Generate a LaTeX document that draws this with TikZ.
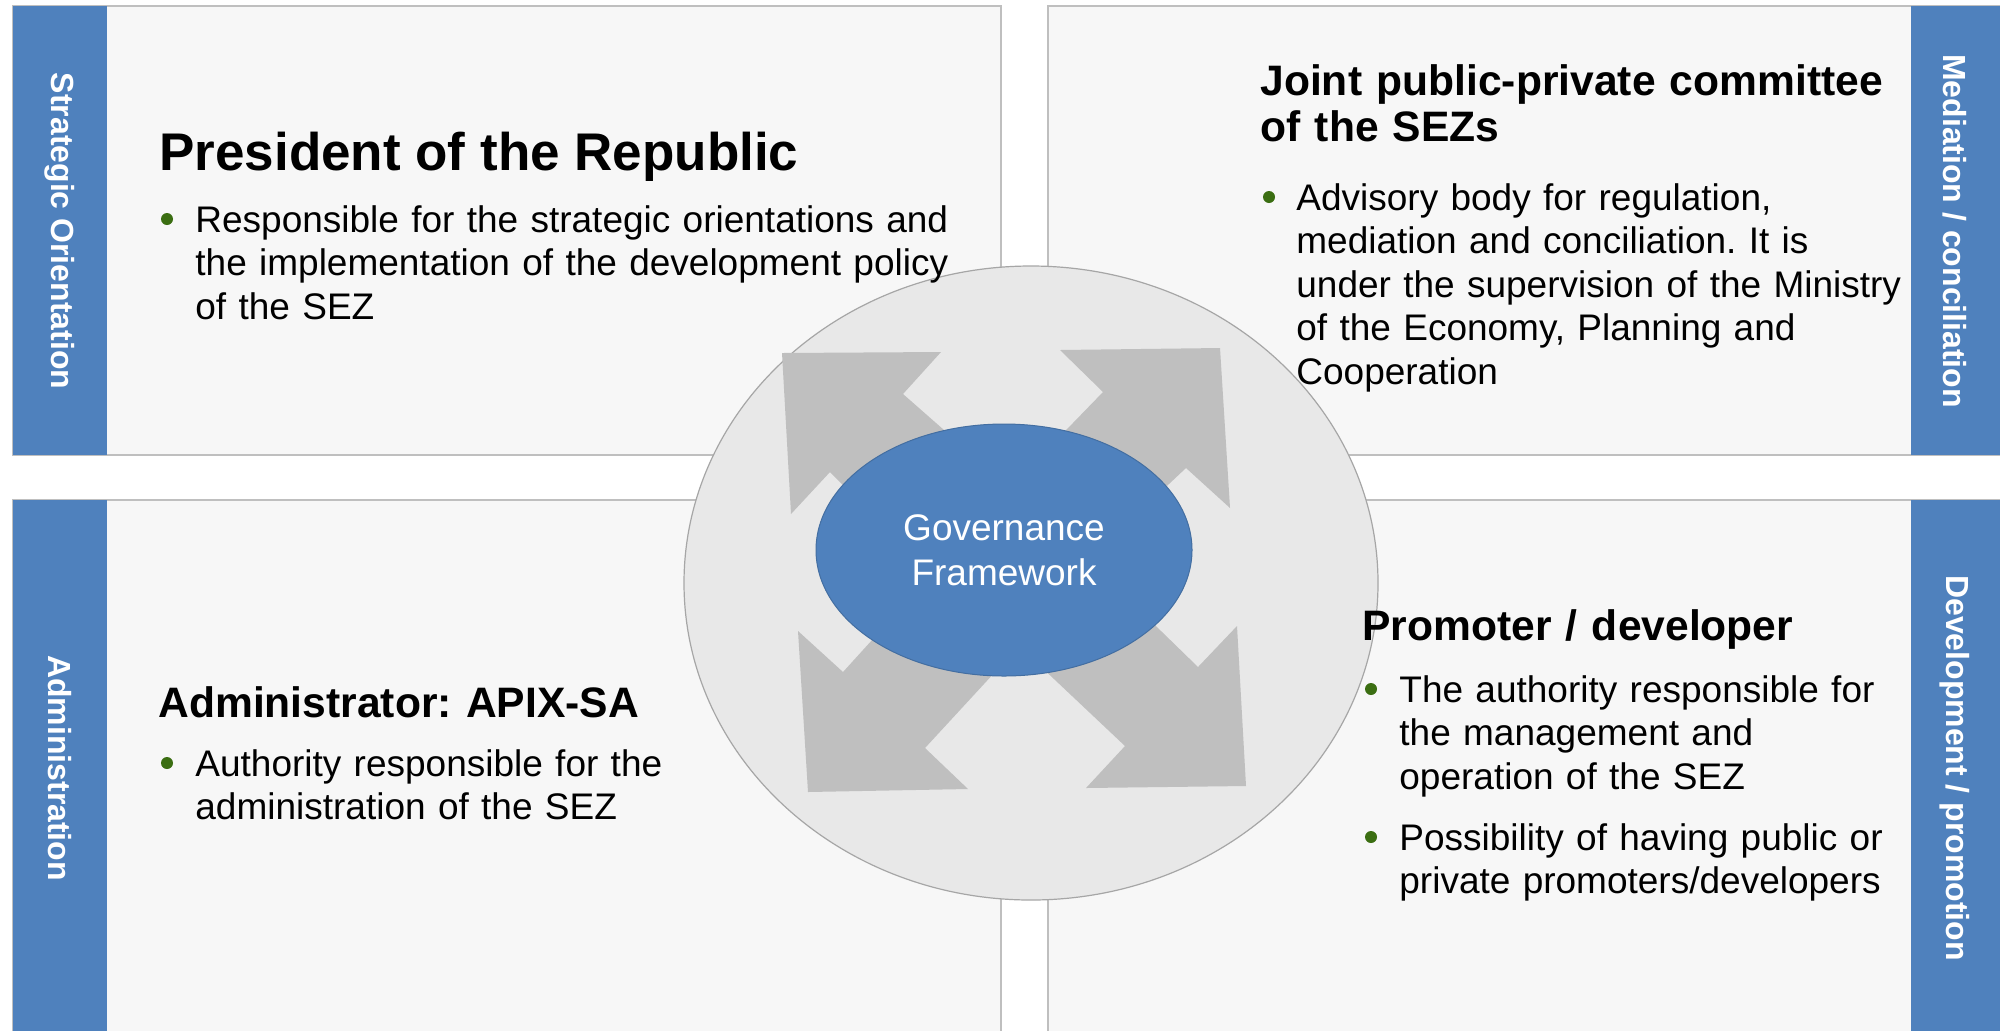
\documentclass[tikz,border=0pt]{standalone}
\usepackage{fontspec}
\setmainfont{Liberation Sans}
\frenchspacing
\usetikzlibrary{shapes.geometric}
\definecolor{govblue}{HTML}{4F81BD}
\definecolor{panelfill}{HTML}{F7F7F7}
\definecolor{panelline}{HTML}{BFBFBF}
\definecolor{ringfill}{HTML}{E8E8E8}
\definecolor{ringline}{HTML}{A6A6A6}
\definecolor{arrowgray}{HTML}{BFBFBF}
\definecolor{bulgreen}{HTML}{3B6E12}
\tikzset{
  panel/.style={fill=panelfill, draw=panelline, line width=0.8pt},
  strip/.style={fill=govblue},
  striplabel/.style={rotate=-90, text=white, inner sep=0pt, font=\fontsize{16pt}{19pt}\selectfont\bfseries},
  bigtitle/.style={anchor=base west, inner sep=0pt, font=\fontsize{26.5pt}{30pt}\selectfont\bfseries},
  headline/.style={anchor=base west, inner sep=0pt, align=left, text width=330pt, font=\fontsize{21.3pt}{23pt}\selectfont\bfseries},
  bodytext/.style={anchor=base west, inner sep=0pt, align=left, font=\fontsize{18.5pt}{21.8pt}\selectfont},
  bulletdot/.style={circle, fill=bulgreen, inner sep=0pt, minimum size=6pt},
}
\begin{document}
\begin{tikzpicture}[x=0.5pt, y=-0.5pt]
    \useasboundingbox (0,0) rectangle (2000,1030);
    \fill[white] (0,0) rectangle (2000,1030);

    \draw[panel] (13,6) rectangle (1001,455);
    \draw[panel] (1048,6) rectangle (2001,455);
    \draw[panel] (13,500) rectangle (1001,1036);
    \draw[panel] (1048,500) rectangle (2001,1036);
    \fill[strip] (13,6) rectangle (107,455);
    \fill[strip] (1911,6) rectangle (2001,455);
    \fill[strip] (13,500) rectangle (107,1036);
    \fill[strip] (1911,500) rectangle (2001,1036);

    \node[striplabel] (stratlbl) at (60,231) {Strategic Orientation};
    \node[striplabel] (medlbl) at (1955,231) {Mediation / conciliation};
    \node[striplabel] (adminlbl) at (60,768) {Administration};
    \node[striplabel] (devlbl) at (1955,768) {Development / promotion};

    \draw[fill=ringfill, draw=ringline, line width=0.6pt] (1031,583) ellipse [x radius=347, y radius=317];

    \fill[arrowgray] (782,353) -- (941,352) -- (903,394) -- (1010,488) -- (1103,392) -- (1060,350)
        -- (1220,348) -- (1230,508) -- (1186,468) -- (1088,560) -- (1198,667) -- (1237,626)
        -- (1246,786) -- (1086,788) -- (1125,746) -- (1019,646) -- (925,748) -- (968,789)
        -- (808,792) -- (798,631) -- (843,672) -- (932,574) -- (830,472) -- (791,514) -- cycle;

    \node[ellipse, fill=govblue, draw=govblue!85!black, line width=0.5pt, minimum width=188pt, minimum height=126pt,
        inner sep=0pt, align=center, text=white, font=\fontsize{18.5pt}{22.5pt}\selectfont] (core) at (1004,550) {Governance\\Framework};

    \node[bigtitle] (prestitle) at (159,170) {President of the Republic};
    \node[bulletdot] (presdot) at (167,219) {};
    \node[bodytext, text width=390pt] (presbody) at (195,232) {Responsible for the strategic orientations and\\the implementation of the development policy\\of the SEZ};

    \node[headline] (jointtitle) at (1260,95) {Joint public-private committee\\of the SEZs};
    \node[bulletdot] (jointdot) at (1269,197) {};
    \node[bodytext, text width=320pt] (jointbody) at (1296,210) {Advisory body for regulation,\\mediation and conciliation. It is\\under the supervision of the Ministry\\of the Economy, Planning and\\Cooperation};

    \node[headline] (admintitle) at (158,717) {Administrator: APIX-SA};
    \node[bulletdot] (admindot) at (167,763) {};
    \node[bodytext, text width=320pt] (adminbody) at (195,776) {Authority responsible for the\\administration of the SEZ};

    \node[headline] (promtitle) at (1362,640) {Promoter / developer};
    \node[bulletdot] (promdota) at (1371,689) {};
    \node[bodytext, text width=260pt] (prombodya) at (1399,702) {The authority responsible for\\the management and\\operation of the SEZ};
    \node[bulletdot] (promdotb) at (1371,837) {};
    \node[bodytext, text width=260pt] (prombodyb) at (1399,850) {Possibility of having public or\\private promoters/developers};
\end{tikzpicture}
\end{document}
